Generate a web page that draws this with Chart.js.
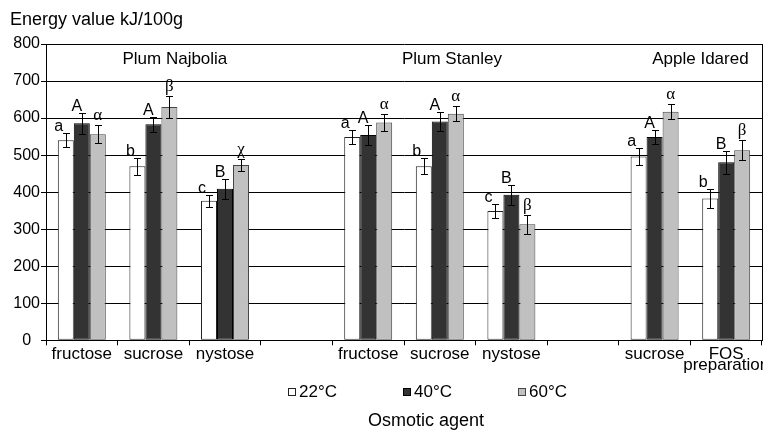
<!DOCTYPE html>
<html>
<head>
<meta charset="utf-8">
<script src="https://cdn.jsdelivr.net/npm/chart.js@4.4.1/dist/chart.umd.min.js"></script>
<style>
  html, body { margin: 0; padding: 0; background: #fff; overflow: hidden; }
  #wrap { width: 763px; height: 432px; overflow: hidden; }
</style>
</head>
<body>
<div id="wrap"><canvas id="myChart" width="852" height="432"></canvas></div>
<script>
// osmotic agents, grouped by fruit ('' = gap between fruits)
const categories = ['fructose', 'sucrose', 'nystose', '', 'fructose', 'sucrose', 'nystose', '', 'sucrose', ['FOS', 'preparation']];
const groupNames = ['Plum Najbolia', 'Plum Stanley', 'Apple Idared'];
const seriesLabels = ['22°C', '40°C', '60°C'];

// energy value kJ/100g
const values22 = [540, 470, 377, null, 549, 470, 349, null, 496, 383];
const values40 = [586, 583, 409, null, 554, 591, 393, null, 549, 481];
const values60 = [556, 630, 473, null, 588, 612, 313, null, 617, 513];

// error bars (+/-)
const errors22 = [19, 23, 16, null, 18, 22, 20, null, 23, 25];
const errors40 = [28, 20, 27, null, 28, 25, 27, null, 20, 31];
const errors60 = [24, 29, 16, null, 23, 20, 26, null, 20, 27];

// significance letters
const letters22 = ['a', 'b', 'c', '', 'a', 'b', 'c', '', 'a', 'b'];
const letters40 = ['A', 'A', 'B', '', 'A', 'A', 'B', '', 'A', 'B'];
const letters60 = ['α', 'β', 'χ', '', 'α', 'α', 'β', '', 'α', 'β'];

const yMin = 0;
const yMax = 800;
const yStep = 100;

const SANS = '"Liberation Sans", Arial, sans-serif';
const SERIF = '"Liberation Serif", "Times New Roman", serif';

Chart.defaults.font.family = SANS;
Chart.defaults.color = '#000';

const marksPlugin = {
  id: 'marks',
  afterDatasetsDraw(chart) {
    const { ctx } = chart;
    const yScale = chart.scales.y;
    const letterShift = [-7, -5, 0];
    ctx.save();
    chart.data.datasets.forEach((ds, di) => {
      const meta = chart.getDatasetMeta(di);
      meta.data.forEach((bar, i) => {
        const v = ds.data[i];
        if (v == null) return;
        const e = ds.errors[i];
        const x = Math.round(bar.x) + 0.5;
        const top = Math.round(yScale.getPixelForValue(v + e)) + 0.5;
        const bot = Math.round(yScale.getPixelForValue(v - e)) + 0.5;
        ctx.strokeStyle = '#000';
        ctx.lineWidth = 1;
        ctx.beginPath();
        ctx.moveTo(x, top); ctx.lineTo(x, bot);
        ctx.moveTo(x - 3.5, top); ctx.lineTo(x + 3.5, top);
        ctx.moveTo(x - 3.5, bot); ctx.lineTo(x + 3.5, bot);
        ctx.stroke();

        const t = ds.letters[i];
        if (!t) return;
        const greek = /[\u0370-\u03ff]/.test(t);
        ctx.font = greek ? '17px ' + SERIF : '16px ' + SANS;
        ctx.fillStyle = '#000';
        ctx.textAlign = 'center';
        ctx.textBaseline = 'alphabetic';
        ctx.fillText(t, bar.x + letterShift[di], top - (greek ? 6 : 2.5));
      });
    });
    ctx.restore();
  },
  afterDraw(chart) {
    const { ctx, chartArea } = chart;
    const xScale = chart.scales.x;
    ctx.save();

    // fruit names
    const groupPos = [1.3, 5.17, 8.64];
    ctx.font = '17px ' + SANS;
    ctx.fillStyle = '#000';
    ctx.textAlign = 'center';
    ctx.textBaseline = 'alphabetic';
    groupNames.forEach((name, g) => {
      ctx.fillText(name, xScale.getPixelForValue(groupPos[g]), chartArea.top + 20);
    });

    // legend between tick labels and axis title
    const cx = (chart.titleBlock.left + chart.titleBlock.right) / 2;
    const cy = xScale.bottom + 19;
    const pitch = 115;
    ctx.font = '17px ' + SANS;
    ctx.textAlign = 'left';
    ctx.textBaseline = 'middle';
    chart.data.datasets.forEach((ds, di) => {
      const bx = Math.round(cx - 138.5 + di * pitch) + 0.5;
      const by = Math.round(cy - 4) + 0.5;
      ctx.fillStyle = ds.backgroundColor;
      ctx.fillRect(bx, by, 7, 7);
      ctx.strokeStyle = ds.borderColor;
      ctx.lineWidth = 1;
      ctx.strokeRect(bx, by, 7, 7);
      ctx.fillStyle = '#000';
      ctx.fillText(ds.label, bx + 10.5, cy);
    });
    ctx.restore();
  }
};

new Chart(document.getElementById('myChart'), {
  type: 'bar',
  data: {
    labels: categories,
    datasets: [
      {
        label: seriesLabels[0],
        data: values22,
        errors: errors22,
        letters: letters22,
        backgroundColor: '#ffffff',
        borderColor: '#222222',
        borderWidth: 1,
      },
      {
        label: seriesLabels[1],
        data: values40,
        errors: errors40,
        letters: letters40,
        backgroundColor: '#333333',
        borderColor: '#000000',
        borderWidth: 1,
      },
      {
        label: seriesLabels[2],
        data: values60,
        errors: errors60,
        letters: letters60,
        backgroundColor: '#c0c0c0',
        borderColor: '#444444',
        borderWidth: 1,
      },
    ],
  },
  options: {
    responsive: false,
    animation: false,
    layout: { padding: { left: 10, right: 10, top: 0, bottom: 0 } },
    datasets: {
      bar: { categoryPercentage: 0.67, barPercentage: 1.0, borderSkipped: false },
    },
    scales: {
      x: {
        type: 'category',
        offset: true,
        grid: { display: true, drawOnChartArea: false, drawTicks: true, tickLength: 5, color: '#000', offset: true },
        border: { display: true, color: '#000' },
        ticks: {
          color: '#000',
          font: { size: 17, lineHeight: 0.65 },
          padding: 3,
          maxRotation: 0,
          minRotation: 0,
          autoSkip: false,
        },
        afterFit(scale) {
          scale.paddingLeft = 0;
          scale.paddingRight = 0;
        },
      },
      y: {
        min: yMin,
        max: yMax,
        ticks: { stepSize: yStep, color: '#000', font: { size: 16 }, padding: 1, crossAlign: 'center' },
        grid: { color: '#000', lineWidth: 1, tickLength: 5 },
        border: { display: true, color: '#000' },
        afterFit(scale) {
          scale.width = 36;
        },
      },
      y2: {
        type: 'linear',
        position: 'right',
        grid: { display: false },
        ticks: { display: false },
        border: { display: true, color: '#000' },
        afterFit(scale) {
          scale.width = 80;
        },
      },
    },
    plugins: {
      legend: { display: false },
      tooltip: { enabled: false },
      subtitle: {
        display: true,
        text: 'Energy value kJ/100g',
        position: 'top',
        align: 'start',
        color: '#000',
        font: { size: 18, weight: 'normal' },
        padding: { top: 9, bottom: 13.4 },
      },
      title: {
        display: true,
        text: 'Osmotic agent',
        position: 'bottom',
        color: '#000',
        font: { size: 18, weight: 'normal' },
        padding: { top: 37, bottom: 0 },
      },
    },
  },
  plugins: [marksPlugin],
});
</script>
</body>
</html>
